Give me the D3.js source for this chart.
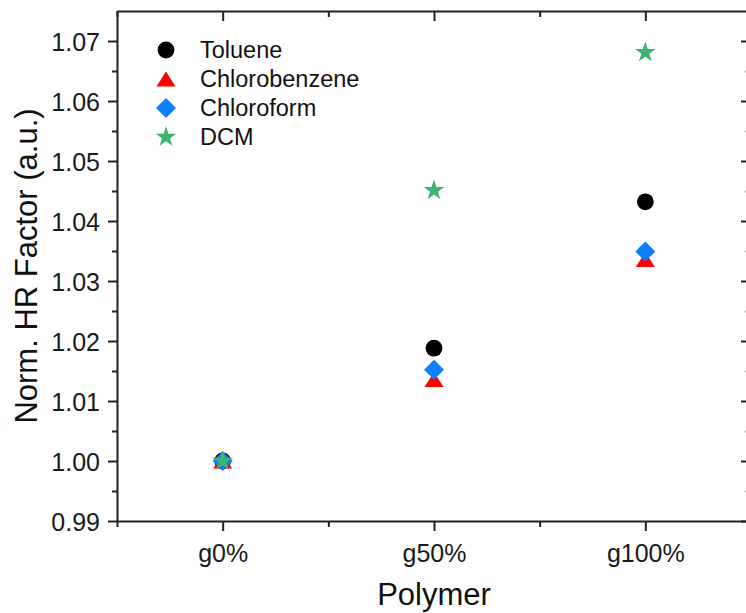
<!DOCTYPE html>
<html>
<head>
<meta charset="utf-8">
<script src="https://cdn.jsdelivr.net/npm/d3@7"></script>
<style>
  html, body { margin: 0; padding: 0; background: #fff; }
  svg { display: block; font-family: Arial, "Liberation Sans", sans-serif; }
</style>
</head>
<body>
<svg id="chart" width="746" height="613"></svg>
<script>
// Polymer grades on the x axis
const categories = ["g0%", "g50%", "g100%"];

// Normalised HR factor for each solvent
const toluene       = [1.0000, 1.0188, 1.0432];
const chlorobenzene = [1.0000, 1.0136, 1.0336];
const chloroform    = [1.0000, 1.0152, 1.0349];
const dcm           = [1.0000, 1.0451, 1.0681];

const seriesNames = ["Toluene", "Chlorobenzene", "Chloroform", "DCM"];
const yTicks = [0.99, 1.00, 1.01, 1.02, 1.03, 1.04, 1.05, 1.06, 1.07];

// Flat upward triangle (width 19, height 15)
const flatTriangle = {
  draw(ctx) {
    ctx.moveTo(0, -7.5);
    ctx.lineTo(9.5, 7.5);
    ctx.lineTo(-9.5, 7.5);
    ctx.closePath();
  }
};
// Square rotated 45 degrees
const rhombus = {
  draw(ctx) {
    const h = 10;
    ctx.moveTo(0, -h);
    ctx.lineTo(h, 0);
    ctx.lineTo(0, h);
    ctx.lineTo(-h, 0);
    ctx.closePath();
  }
};

const series = [
  { name: seriesNames[0], values: toluene,       color: "#000000", symbol: d3.symbol(d3.symbolCircle, 222) },
  { name: seriesNames[1], values: chlorobenzene, color: "#FF0000", symbol: d3.symbol(flatTriangle) },
  { name: seriesNames[2], values: chloroform,    color: "#0F7FFF", symbol: d3.symbol(rhombus) },
  { name: seriesNames[3], values: dcm,           color: "#3CB371", symbol: d3.symbol(d3.symbolStar, 132) }
];

const svg = d3.select("#chart");
const plotLeft = 117, plotRight = 751, plotTop = 11, plotBottom = 521;

const x = d3.scaleLinear().domain([-0.5, categories.length - 0.5]).range([plotLeft, plotRight]);
const y = d3.scaleLinear().domain([0.99, 1.075]).range([plotBottom, plotTop]);

const axisColor = "#222";
const majorX = d3.range(categories.length);
const minorX = d3.range(-0.5, categories.length, 1);
const minorY = d3.range(0.995, 1.075, 0.01);

function styleAxis(g) {
  g.select(".domain").attr("stroke", axisColor).attr("stroke-width", 2);
  g.selectAll(".tick line").attr("stroke", axisColor).attr("stroke-width", 2);
  g.selectAll(".tick text").attr("fill", "#1a1a1a").attr("font-size", 25)
    .attr("font-family", "Arial, 'Liberation Sans', sans-serif");
}
function styleMinor(g, color) {
  g.select(".domain").remove();
  g.selectAll("line").attr("stroke", color).attr("stroke-width", 2);
}

// Bottom axis: category labels with outward ticks
const xAxisB = svg.append("g").attr("transform", `translate(0,${plotBottom})`)
  .call(d3.axisBottom(x).tickValues(majorX).tickFormat(i => categories[i])
    .tickSizeInner(10).tickSizeOuter(0).tickPadding(13));
styleAxis(xAxisB);
svg.append("g").attr("transform", `translate(0,${plotBottom})`)
  .call(d3.axisBottom(x).tickValues(minorX).tickFormat("").tickSizeInner(6).tickSizeOuter(0))
  .call(g => styleMinor(g, axisColor));

// Top axis: mirrored ticks pointing inside
const xAxisT = svg.append("g").attr("transform", `translate(0,${plotTop})`)
  .call(d3.axisTop(x).tickValues(majorX).tickFormat("").tickSizeInner(-10).tickSizeOuter(0));
styleAxis(xAxisT);
svg.append("g").attr("transform", `translate(0,${plotTop})`)
  .call(d3.axisTop(x).tickValues(minorX).tickFormat("").tickSizeInner(-6).tickSizeOuter(0))
  .call(g => styleMinor(g, axisColor));

// Left axis
const yAxisL = svg.append("g").attr("transform", `translate(${plotLeft},0)`)
  .call(d3.axisLeft(y).tickValues(yTicks).tickFormat(d3.format(".2f"))
    .tickSizeInner(9).tickSizeOuter(0).tickPadding(8));
styleAxis(yAxisL);
yAxisL.selectAll(".tick text").attr("dy", "0.36em");
svg.append("g").attr("transform", `translate(${plotLeft},0)`)
  .call(d3.axisLeft(y).tickValues(minorY).tickFormat("").tickSizeInner(5).tickSizeOuter(0))
  .call(g => styleMinor(g, axisColor));

// Right axis: mirrored ticks pointing inside
const yAxisR = svg.append("g").attr("transform", `translate(${plotRight},0)`)
  .call(d3.axisRight(y).tickValues(yTicks).tickFormat("").tickSizeInner(-10).tickSizeOuter(0));
styleAxis(yAxisR);
svg.append("g").attr("transform", `translate(${plotRight},0)`)
  .call(d3.axisRight(y).tickValues(minorY).tickFormat("").tickSizeInner(-6).tickSizeOuter(0))
  .call(g => styleMinor(g, "#999"));

// Axis titles
svg.append("text")
  .attr("x", x(1)).attr("y", 605)
  .attr("text-anchor", "middle").attr("font-size", 31).attr("fill", "#111")
  .text("Polymer");
svg.append("text")
  .attr("transform", `translate(37,${(plotTop + plotBottom) / 2}) rotate(-90)`)
  .attr("text-anchor", "middle").attr("font-size", 31).attr("fill", "#111")
  .text("Norm. HR Factor (a.u.)");

// Data markers
series.forEach(s => {
  svg.append("g").selectAll("path")
    .data(s.values)
    .join("path")
    .attr("d", s.symbol)
    .attr("transform", (d, i) => `translate(${x(i)},${y(d)})`)
    .attr("fill", s.color);
});

// Legend
const legend = svg.append("g");
series.forEach((s, i) => {
  const cy = 50 + i * 29;
  legend.append("path").attr("d", s.symbol)
    .attr("transform", `translate(166,${cy})`).attr("fill", s.color);
  legend.append("text").attr("x", 200).attr("y", cy).attr("dy", "0.36em")
    .attr("font-size", 23.5).attr("fill", "#111").text(s.name);
});
</script>
</body>
</html>
